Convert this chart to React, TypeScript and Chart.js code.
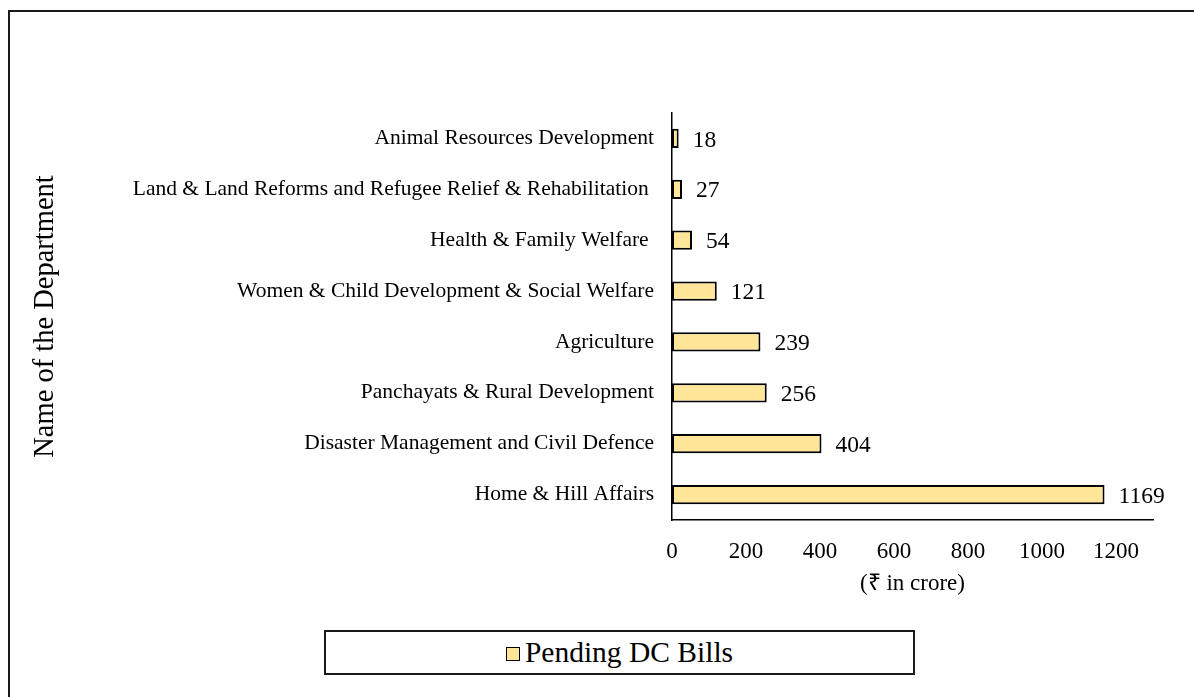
import React, { useEffect, useRef } from "react";
import { Chart, registerables } from "chart.js";

Chart.register(...registerables);

const categories: string[] = [
  "Animal Resources Development",
  "Land & Land Reforms and Refugee Relief & Rehabilitation ",
  "Health & Family Welfare ",
  "Women & Child Development & Social Welfare",
  "Agriculture",
  "Panchayats & Rural Development",
  "Disaster Management and Civil Defence",
  "Home & Hill Affairs",
];
const pendingBills: number[] = [18, 27, 54, 121, 239, 256, 404, 1169];
const xTickValues: number[] = [0, 200, 400, 600, 800, 1000, 1200];
const seriesLabel = "Pending DC Bills";
const xTitle = "(₹ in crore)";
const yTitle = "Name of the Department";
const xMin = 0;
const xMax = 1300;

const FONT = '"Liberation Serif", "Times New Roman", serif';
const BAR_FILL = "#FFE699";

const valueLabels = {
  id: "valueLabels",
  afterDatasetsDraw(chart: any) {
    const ctx = chart.ctx;
    const meta = chart.getDatasetMeta(0);
    ctx.save();
    ctx.font = `23.5px ${FONT}`;
    ctx.fillStyle = "#000";
    ctx.textAlign = "left";
    ctx.textBaseline = "middle";
    meta.data.forEach((bar: any, i: number) => {
      const v = chart.data.datasets[0].data[i];
      ctx.fillText(String(v), bar.x + 14, bar.y + 2);
    });
    ctx.restore();
  },
};

export default function App() {
  const canvasRef = useRef<HTMLCanvasElement | null>(null);

  useEffect(() => {
    if (!canvasRef.current) return;
    const chart = new Chart(canvasRef.current, {
      type: "bar",
      data: {
        labels: categories,
        datasets: [
          {
            label: seriesLabel,
            data: pendingBills,
            backgroundColor: BAR_FILL,
            borderColor: "#000",
            borderWidth: 2,
            borderSkipped: false,
            barPercentage: 0.38,
            categoryPercentage: 1,
          },
        ],
      },
      plugins: [valueLabels],
      options: {
        indexAxis: "y",
        animation: false,
        responsive: false,
        maintainAspectRatio: false,
        layout: { padding: { left: 18, top: 113, right: 41, bottom: 97 } },
        plugins: {
          legend: { display: false },
          tooltip: { enabled: false },
        },
        scales: {
          x: {
            type: "linear",
            min: xMin,
            max: xMax,
            afterBuildTicks: (scale: any) => {
              scale.ticks = xTickValues.map((v) => ({ value: v }));
            },
            afterFit: (scale: any) => {
              scale.height = 80;
            },
            ticks: {
              color: "#000",
              font: { family: FONT, size: 23 },
              padding: 18,
              maxRotation: 0,
              autoSkip: false,
              callback: (v: any) => String(v),
            },
            grid: { display: false, drawTicks: false },
            border: { display: true, color: "#000", width: 1.5 },
            title: {
              display: true,
              text: xTitle,
              color: "#000",
              font: { family: FONT, size: 23 },
              padding: { top: 0, bottom: 2 },
            },
          },
          y: {
            type: "category",
            afterFit: (scale: any) => {
              scale.width = 654;
            },
            ticks: {
              color: "#000",
              font: { family: FONT, size: 21.5 },
              padding: 18,
              autoSkip: false,
            },
            grid: { display: false, drawTicks: false },
            border: { display: true, color: "#000", width: 1.5 },
            title: {
              display: true,
              text: yTitle,
              color: "#000",
              font: { family: FONT, size: 28.5 },
              padding: { top: 10, bottom: 0 },
            },
          },
        },
      },
    });
    return () => chart.destroy();
  }, []);

  return (
    <div
      style={{
        position: "absolute",
        left: 0,
        top: 0,
        width: 1194,
        height: 697,
        overflow: "hidden",
        background: "#fff",
      }}
    >
      <div
        style={{
          position: "absolute",
          left: 8,
          top: 10,
          width: 1300,
          height: 800,
          border: "2px solid #1a1a1a",
          boxSizing: "border-box",
        }}
      />
      <canvas
        ref={canvasRef}
        width={1194}
        height={697}
        style={{ position: "absolute", left: 0, top: 0, width: 1194, height: 697 }}
      />
      <div
        style={{
          position: "absolute",
          left: 324,
          top: 630,
          width: 591,
          height: 45,
          border: "2px solid #1a1a1a",
          boxSizing: "border-box",
          display: "flex",
          alignItems: "center",
          justifyContent: "center",
          fontFamily: FONT,
          fontSize: 29.5,
          color: "#000",
          background: "#fff",
        }}
      >
        <span
          style={{
            display: "inline-block",
            width: 14,
            height: 14,
            background: BAR_FILL,
            border: "1.5px solid #000",
            boxSizing: "border-box",
            marginRight: 5,
            marginTop: 3,
          }}
        />
        <span>{seriesLabel}</span>
      </div>
    </div>
  );
}
